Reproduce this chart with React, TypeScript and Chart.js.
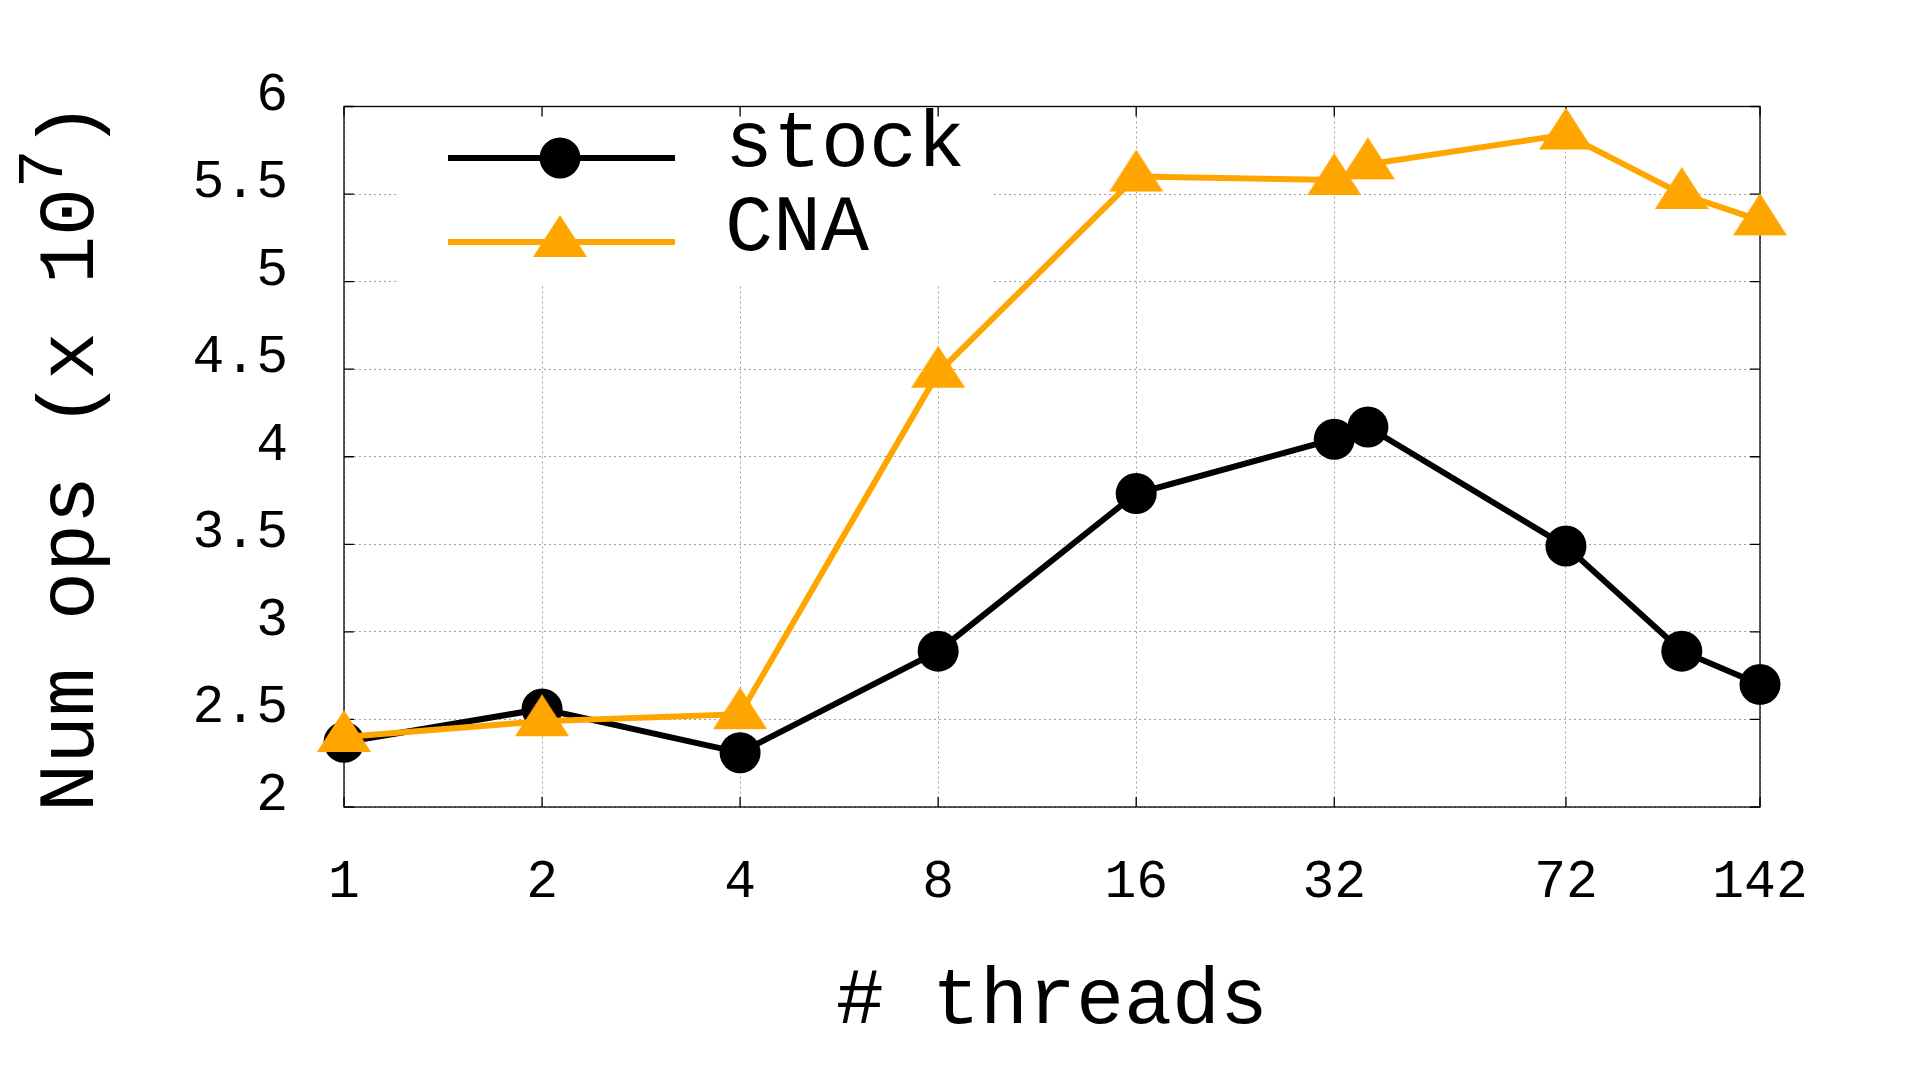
import React, { useEffect, useRef } from 'react';
import { Chart, registerables } from 'chart.js';

Chart.register(...registerables);

// ---- data ----
const threads = [1, 2, 4, 8, 16, 32, 36, 72, 108, 142];
const stockOps = [2.37, 2.56, 2.31, 2.89, 3.79, 4.1, 4.17, 3.49, 2.89, 2.7];
const cnaOps = [2.4, 2.49, 2.53, 4.48, 5.6, 5.58, 5.67, 5.84, 5.5, 5.35];
const xTickValues = [1, 2, 4, 8, 16, 32, 72, 142];
const yTickValues = [2, 2.5, 3, 3.5, 4, 4.5, 5, 5.5, 6];
const seriesLabels = ['stock', 'CNA'];
const xTitle = '# threads';
const yTitleMain = 'Num ops (x 10';
const yTitleSup = '7';
const yTitleEnd = ')';

const FONT = "'Liberation Mono', 'DejaVu Sans Mono', monospace";
const ORANGE = '#FFA500';

function makeTriangle(color: string): HTMLCanvasElement {
  const w = 54;
  const h = 42;
  const c = document.createElement('canvas');
  c.width = w;
  c.height = 54;
  const ctx = c.getContext('2d')!;
  ctx.fillStyle = color;
  ctx.beginPath();
  ctx.moveTo(w / 2, 0);
  ctx.lineTo(w, h);
  ctx.lineTo(0, h);
  ctx.closePath();
  ctx.fill();
  return c;
}

export default function App() {
  const ref = useRef<HTMLCanvasElement | null>(null);

  useEffect(() => {
    if (!ref.current) return;
    const tri = makeTriangle(ORANGE);

    const decor = {
      id: 'gnuplotDecor',
      beforeDatasetsDraw(chart: any) {
        const { ctx, chartArea: a, scales } = chart;
        ctx.save();
        // legend background
        ctx.fillStyle = '#ffffff';
        ctx.fillRect(a.left + 52, a.top + 1, 596, 177);
        // frame
        ctx.strokeStyle = '#000';
        ctx.lineWidth = 1.3;
        ctx.setLineDash([]);
        ctx.strokeRect(a.left, a.top, a.right - a.left, a.bottom - a.top);
        // inward ticks
        const tl = 10;
        ctx.beginPath();
        for (const v of yTickValues) {
          const y = scales.y.getPixelForValue(v);
          ctx.moveTo(a.left, y);
          ctx.lineTo(a.left + tl, y);
          ctx.moveTo(a.right, y);
          ctx.lineTo(a.right - tl, y);
        }
        for (const v of xTickValues) {
          const x = scales.x.getPixelForValue(v);
          ctx.moveTo(x, a.bottom);
          ctx.lineTo(x, a.bottom - tl);
          ctx.moveTo(x, a.top);
          ctx.lineTo(x, a.top + tl);
        }
        ctx.stroke();

        // legend entries
        const rows = [a.top + 51.5, a.top + 135.5];
        const x0 = a.left + 104;
        const x1 = a.left + 331;
        const xm = a.left + 216;
        chart.data.datasets.forEach((ds: any, i: number) => {
          const y = rows[i];
          ctx.strokeStyle = ds.borderColor;
          ctx.lineWidth = ds.borderWidth;
          ctx.beginPath();
          ctx.moveTo(x0, y);
          ctx.lineTo(x1, y);
          ctx.stroke();
          if (ds.pointStyle === 'circle') {
            ctx.fillStyle = ds.pointBackgroundColor;
            ctx.beginPath();
            ctx.arc(xm, y, ds.pointRadius, 0, Math.PI * 2);
            ctx.fill();
          } else {
            const img = ds.pointStyle as HTMLCanvasElement;
            ctx.drawImage(img, xm - img.width / 2, y - img.height / 2);
          }
          ctx.fillStyle = '#000';
          ctx.font = `80px ${FONT}`;
          ctx.textAlign = 'left';
          ctx.textBaseline = 'alphabetic';
          ctx.fillText(ds.label, a.left + 381, y + 8);
        });
        ctx.restore();
      },
      afterDraw(chart: any) {
        const { ctx, chartArea: a } = chart;
        ctx.save();
        ctx.translate(93, (a.top + a.bottom) / 2);
        ctx.rotate(-Math.PI / 2);
        ctx.fillStyle = '#000';
        ctx.textAlign = 'left';
        ctx.textBaseline = 'alphabetic';
        const mainFont = `80px ${FONT}`;
        const supFont = `64px ${FONT}`;
        ctx.font = mainFont;
        const w1 = ctx.measureText(yTitleMain).width;
        const w3 = ctx.measureText(yTitleEnd).width;
        ctx.font = supFont;
        const w2 = ctx.measureText(yTitleSup).width;
        let x = -(w1 + w2 + w3) / 2;
        ctx.font = mainFont;
        ctx.fillText(yTitleMain, x, 0);
        x += w1;
        ctx.font = supFont;
        ctx.fillText(yTitleSup, x, -31);
        x += w2;
        ctx.font = mainFont;
        ctx.fillText(yTitleEnd, x, 0);
        ctx.restore();
      },
    };

    const chart = new Chart(ref.current, {
      type: 'line',
      data: {
        datasets: [
          {
            label: seriesLabels[0],
            data: threads.map((t, i) => ({ x: t, y: stockOps[i] })),
            borderColor: '#000000',
            backgroundColor: '#000000',
            pointBackgroundColor: '#000000',
            borderWidth: 6,
            pointStyle: 'circle',
            pointRadius: 20.5,
            pointBorderWidth: 0,
            tension: 0,
            clip: false as any,
            order: 1,
          },
          {
            label: seriesLabels[1],
            data: threads.map((t, i) => ({ x: t, y: cnaOps[i] })),
            borderColor: ORANGE,
            backgroundColor: ORANGE,
            pointBackgroundColor: ORANGE,
            borderWidth: 6,
            pointStyle: tri as any,
            pointRadius: 27,
            pointBorderWidth: 0,
            tension: 0,
            clip: false as any,
            order: 0,
          },
        ],
      },
      options: {
        animation: false,
        responsive: false,
        devicePixelRatio: 1,
        events: [],
        layout: { padding: { top: 106.5, right: 160, bottom: 0, left: 0 } },
        plugins: {
          legend: { display: false },
          tooltip: { enabled: false },
          title: { display: false },
        },
        scales: {
          x: {
            type: 'logarithmic',
            min: 1,
            max: 142,
            bounds: 'data',
            afterBuildTicks: (scale: any) => {
              scale.ticks = xTickValues.map((v) => ({ value: v }));
            },
            afterFit: (scale: any) => {
              scale.height = 273;
            },
            ticks: {
              autoSkip: false,
              maxRotation: 0,
              padding: 44,
              color: '#000',
              font: { family: FONT, size: 53 },
              callback: (v: any) => String(v),
            },
            grid: {
              color: '#a0a0a0',
              lineWidth: 1,
              drawTicks: false,
            },
            border: { display: false, dash: [2, 3] },
            title: {
              display: true,
              text: xTitle,
              color: '#000',
              font: { family: FONT, size: 80, lineHeight: 1 },
              padding: { top: 0, bottom: 38 },
            },
          },
          y: {
            type: 'linear',
            min: 2,
            max: 6,
            afterBuildTicks: (scale: any) => {
              scale.ticks = yTickValues.map((v) => ({ value: v }));
            },
            afterFit: (scale: any) => {
              scale.width = 344;
            },
            ticks: {
              padding: 56,
              labelOffset: -11,
              color: '#000',
              font: { family: FONT, size: 53 },
              callback: (v: any) => String(v),
            },
            grid: {
              color: '#a0a0a0',
              lineWidth: 1,
              drawTicks: false,
            },
            border: { display: false, dash: [2, 3] },
          },
        },
      } as any,
      plugins: [decor],
    });

    return () => chart.destroy();
  }, []);

  return (
    <canvas
      ref={ref}
      width={1920}
      height={1080}
      style={{ position: 'absolute', left: 0, top: 0, display: 'block' }}
    />
  );
}
